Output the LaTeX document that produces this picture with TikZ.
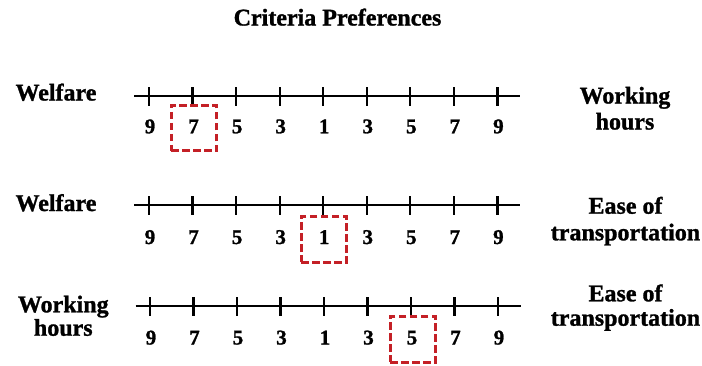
\documentclass[tikz,border=0pt]{standalone}
\usepackage{fontspec}
\setmainfont{Liberation Serif}[BoldFeatures={FakeBold=1.2}]
\definecolor{boxred}{RGB}{196,32,38}
\begin{document}
\begin{tikzpicture}[x=1pt,y=-1pt,
  lab/.style={font=\fontsize{24}{26}\selectfont\bfseries, inner sep=0pt, anchor=base},
  num/.style={font=\fontsize{21}{24}\selectfont\bfseries, inner sep=0pt, anchor=base},
  axis/.style={line width=2.3pt, black},
  selbox/.style={draw=boxred, dash pattern=on 7.5pt off 3.5pt, line width=3pt}]
\useasboundingbox (0,0) rectangle (702,365);

% title
\node[lab] (title) at (337.5,25.5) {Criteria Preferences};

% row 1
\coordinate (a1s) at (134,96);
\coordinate (a1e) at (520,96);
\draw[axis] (a1s) -- (a1e);
\foreach \i/\v in {0/9,1/7,2/5,3/3,4/1,5/3,6/5,7/7,8/9}{
  \coordinate (t1\i) at ({149+43.55*\i},96);
  \draw[axis] ([yshift=-9.5pt]t1\i) -- ([yshift=9.5pt]t1\i);
  \node[num] (n1\i) at ({150+43.55*\i},133.3) {\v};
}
\node[selbox, minimum width=45.5pt, minimum height=45.5pt, inner sep=0pt] (b1) at (194,128) {};
\node[lab] (l1) at (56,100.5) {Welfare};
\node[lab] (r1a) at (625,103.5) {Working};
\node[lab] (r1b) at (625,129.5) {hours};

% row 2
\coordinate (a2s) at (134,205.3);
\coordinate (a2e) at (520,205.3);
\draw[axis] (a2s) -- (a2e);
\foreach \i/\v in {0/9,1/7,2/5,3/3,4/1,5/3,6/5,7/7,8/9}{
  \coordinate (t2\i) at ({149+43.55*\i},205.3);
  \draw[axis] ([yshift=-9.5pt]t2\i) -- ([yshift=9.5pt]t2\i);
  \node[num] (n2\i) at ({150+43.55*\i},244) {\v};
}
\node[selbox, minimum width=45.5pt, minimum height=46pt, inner sep=0pt] (b2) at (324,239) {};
\node[lab] (l2) at (56,211) {Welfare};
\node[lab] (r2a) at (625.5,213.7) {Ease of};
\node[lab] (r2b) at (625.5,240.3) {transportation};

% row 3
\coordinate (a3s) at (135.5,306.3);
\coordinate (a3e) at (520.5,306.3);
\draw[axis] (a3s) -- (a3e);
\foreach \i/\v in {0/9,1/7,2/5,3/3,4/1,5/3,6/5,7/7,8/9}{
  \coordinate (t3\i) at ({150+43.5*\i},306.3);
  \draw[axis] ([yshift=-9.5pt]t3\i) -- ([yshift=9.5pt]t3\i);
  \node[num] (n3\i) at ({151+43.5*\i},344.5) {\v};
}
\node[selbox, minimum width=45.5pt, minimum height=46pt, inner sep=0pt] (b3) at (413,339) {};
\node[lab] (l3a) at (63.3,312.3) {Working};
\node[lab] (l3b) at (63.3,335.7) {hours};
\node[lab] (r3a) at (625.5,301.3) {Ease of};
\node[lab] (r3b) at (625.5,325.7) {transportation};
\end{tikzpicture}
\end{document}
